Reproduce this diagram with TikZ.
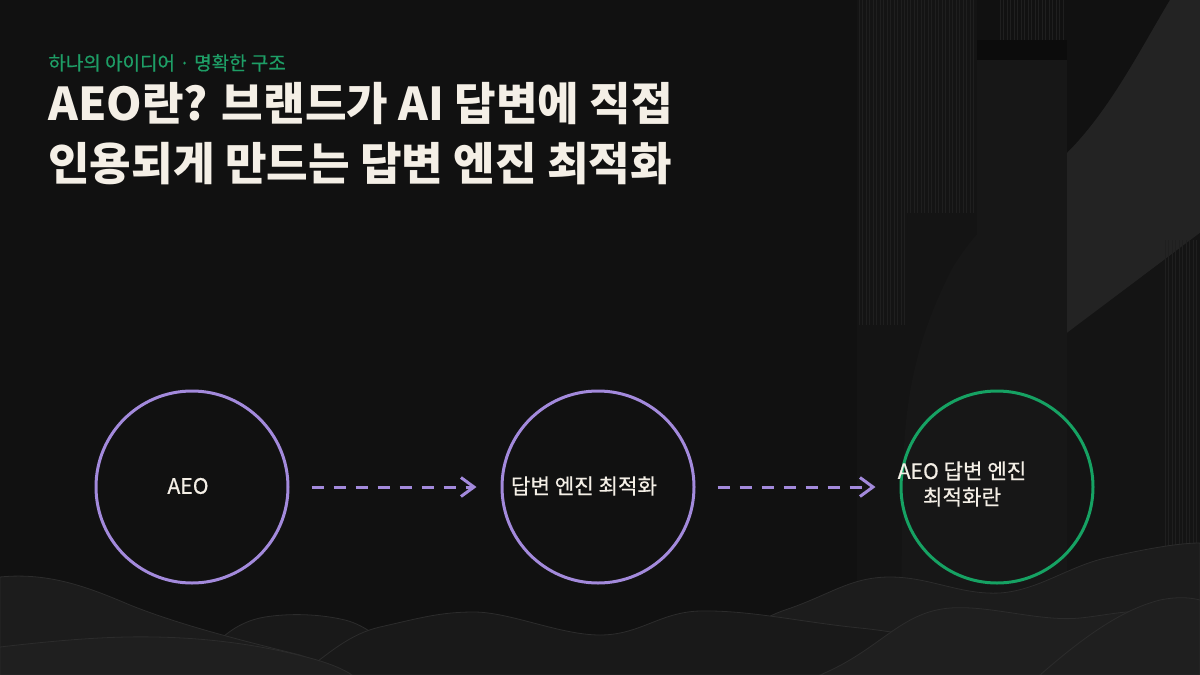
\documentclass[tikz,border=0pt]{standalone}
\usepackage{fontspec}
\setmainfont{Noto Sans CJK KR}
\newfontfamily\medfont{Noto Sans CJK KR}[FakeBold=0.5]
\usetikzlibrary{arrows.meta}
\definecolor{bg}{HTML}{111111}
\definecolor{cream}{HTML}{F4EFE6}
\definecolor{lav}{HTML}{A38ADC}
\definecolor{grn}{HTML}{16A263}
\definecolor{subg}{HTML}{1E9E66}
\definecolor{panelA}{HTML}{141414}
\definecolor{panelB}{HTML}{171717}
\definecolor{bandC}{HTML}{232323}
\definecolor{stripe}{HTML}{1F1F1F}
\definecolor{darkblk}{HTML}{0C0C0C}
\definecolor{hillA}{HTML}{1C1C1C}
\definecolor{hillB}{HTML}{191919}
\definecolor{hillC}{HTML}{1F1F1F}
\definecolor{hillEdge}{HTML}{2C2C2C}
\tikzset{
  ring/.style={circle, draw=lav, line width=1.5pt, minimum size=96pt, inner sep=0pt},
  ringg/.style={ring, draw=grn},
  lbl/.style={text=cream, font=\medfont\fontsize{10.6pt}{13pt}\selectfont, align=center, inner sep=0pt},
  flow/.style={draw=lav, line width=1.5pt, dash pattern=on 6pt off 5pt, -{Straight Barb[length=6.5pt,width=9.5pt,line width=1.5pt]}},
  hill/.style={draw=hillEdge, line width=0.4pt},
  headline/.style={anchor=base west, inner sep=0pt, text=cream, font=\fontsize{22.6pt}{27pt}\selectfont\bfseries},
}
\begin{document}
\begin{tikzpicture}[x=0.5pt,y=-0.5pt]
\useasboundingbox (0,0) rectangle (1200,675);
\fill[bg] (0,0) rectangle (1200,675);
% ---- right decorative panels
\fill[panelA] (857,0) rectangle (977,675);
\foreach \x in {859,862.5,...,905} \draw[stripe, line width=0.35pt] (\x,0) -- (\x,325);
\foreach \x in {907,910.5,...,975} \draw[stripe, line width=0.35pt] (\x,0) -- (\x,213);
\fill[panelB] (977,60) rectangle (1067,675);
\fill[darkblk] (977,40) rectangle (1067,60);
\foreach \x in {1000,1003.5,...,1066} \draw[stripe, line width=0.35pt] (\x,0) -- (\x,40);
% curved band
\fill[panelB] (900,675) -- (903,470) .. controls (905,400) and (915,340) .. (953,267)
  .. controls (985,215) and (1030,185) .. (1067,153)
  .. controls (1110,110) and (1140,50) .. (1170,0) -- (1200,0) -- (1200,675) -- cycle;
\fill[bandC] (1067,153) .. controls (1110,110) and (1140,50) .. (1170,0) -- (1200,0) -- (1200,233) -- (1067,333) -- cycle;
\fill[panelA] (1067,333) -- (1200,233) -- (1200,675) -- (1067,675) -- cycle;
\foreach \x in {1165,1168.5,...,1199} \draw[stripe, line width=0.35pt] (\x,240) -- (\x,600);
% ---- hills (back to front)
\fill[hillB, hill] (190,675) .. controls (215,640) and (235,622) .. (265,617)
  .. controls (290,613) and (320,614) .. (345,620) .. controls (365,625) and (385,640) .. (420,675) -- cycle;
\fill[hillA, hill] (0,577) .. controls (50,572) and (90,588) .. (130,605)
  .. controls (180,625) and (240,640) .. (300,655) .. controls (320,662) and (335,668) .. (345,675) -- (0,675) -- cycle;
\fill[hillA, hill] (690,675) .. controls (730,645) and (750,622) .. (785,610)
  .. controls (830,595) and (850,577) .. (890,577)
  .. controls (930,577) and (960,595) .. (1000,593) .. controls (1040,590) and (1070,565) .. (1110,557)
  .. controls (1150,548) and (1180,543) .. (1200,543) -- (1200,675) -- cycle;
\fill[hillB, hill] (300,675) .. controls (330,652) and (350,634) .. (380,627)
  .. controls (420,618) and (440,612) .. (474,612)
  .. controls (510,612) and (560,635) .. (600,635) .. controls (640,635) and (660,612) .. (700,611)
  .. controls (750,610) and (800,622) .. (860,628) .. controls (920,634) and (980,650) .. (1020,675) -- cycle;
\fill[hillC, hill] (820,675) .. controls (880,650) and (900,612) .. (950,608)
  .. controls (990,605) and (1040,622) .. (1080,618) .. controls (1120,614) and (1160,600) .. (1200,630)
  -- (1200,675) -- cycle;
\fill[hillC, hill] (1040,675) .. controls (1080,640) and (1120,610) .. (1160,600)
  .. controls (1180,596) and (1192,598) .. (1200,600) -- (1200,675) -- cycle;
\fill[hillC, hill] (0,647) .. controls (60,640) and (110,636) .. (155,637)
  .. controls (210,638) and (260,645) .. (306,657) .. controls (330,663) and (345,670) .. (352,675) -- (0,675) -- cycle;
% ---- headings
\node[anchor=base west, inner sep=0pt, text=subg, font=\medfont\fontsize{9.5pt}{11pt}\selectfont] (sub) at (48,70) {하나의 아이디어 · 명확한 구조};
\node[headline] (t1) at (48,120) {AEO란? 브랜드가 AI 답변에 직접};
\node[headline] (t2) at (48,180) {인용되게 만드는 답변 엔진 최적화};
% ---- flow
\node[ring] (c1) at (192,487) {};
\node[ring] (c2) at (598,487) {};
\node[ringg] (c3) at (997,487) {};
\node[lbl] (l1) at (188,486) {AEO};
\node[lbl] (l2) at (584,486) {답변 엔진 최적화};
\node[lbl] (l3) at (962,484) {AEO 답변 엔진\\최적화란};
\draw[flow, shorten <=11pt, shorten >=12pt] (c1) -- (c2);
\draw[flow, shorten <=11pt, shorten >=12pt] (c2) -- (c3);
\end{tikzpicture}
\end{document}
